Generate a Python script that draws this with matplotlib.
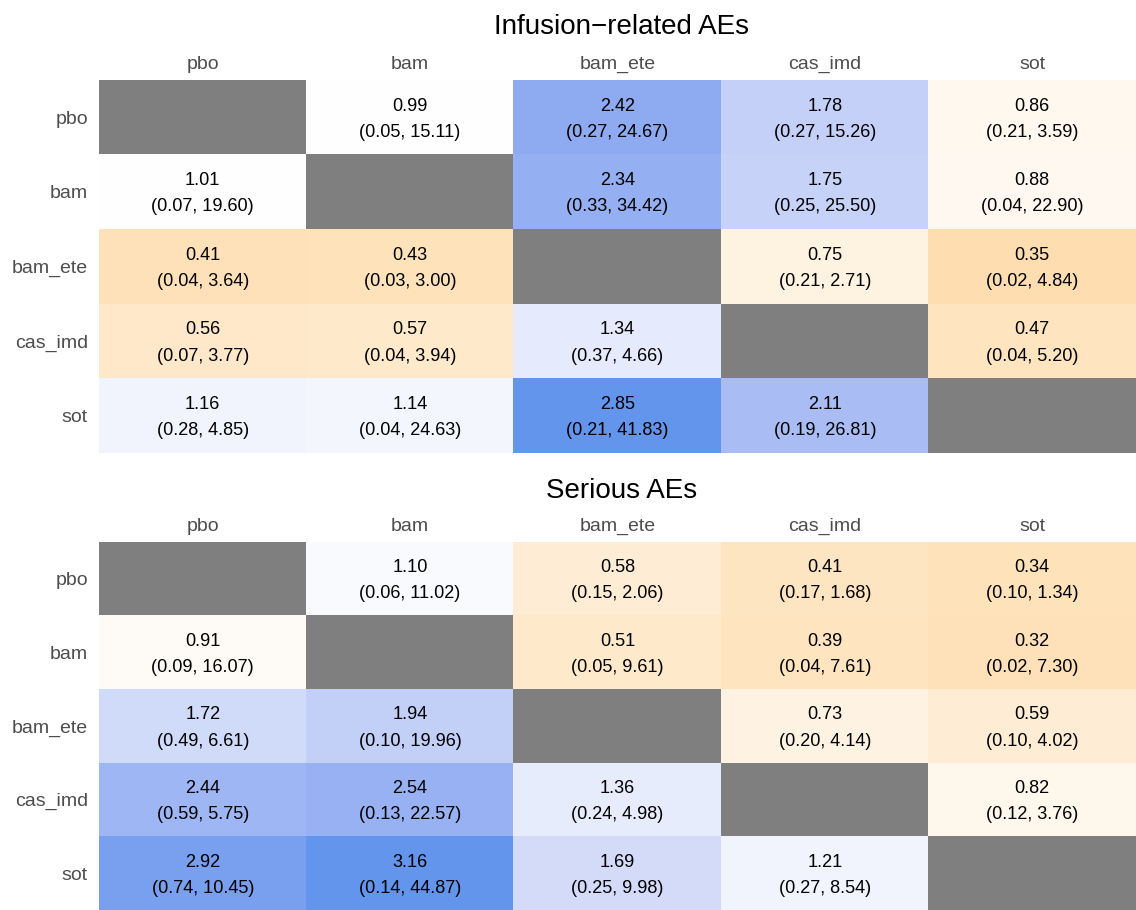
import numpy as np
import matplotlib
matplotlib.use("Agg")
import matplotlib.pyplot as plt
from matplotlib.colors import ListedColormap, Normalize, to_rgb

plt.rcParams['font.family'] = ['Liberation Sans', 'DejaVu Sans']

treatments = ["pbo", "bam", "bam_ete", "cas_imd", "sot"]

# odds ratios, row vs column; diagonal left empty
ir_or = [[np.nan, 0.99, 2.42, 1.78, 0.86],
         [1.01, np.nan, 2.34, 1.75, 0.88],
         [0.41, 0.43, np.nan, 0.75, 0.35],
         [0.56, 0.57, 1.34, np.nan, 0.47],
         [1.16, 1.14, 2.85, 2.11, np.nan]]
ir_lo = [[np.nan, 0.05, 0.27, 0.27, 0.21],
         [0.07, np.nan, 0.33, 0.25, 0.04],
         [0.04, 0.03, np.nan, 0.21, 0.02],
         [0.07, 0.04, 0.37, np.nan, 0.04],
         [0.28, 0.04, 0.21, 0.19, np.nan]]
ir_hi = [[np.nan, 15.11, 24.67, 15.26, 3.59],
         [19.60, np.nan, 34.42, 25.50, 22.90],
         [3.64, 3.00, np.nan, 2.71, 4.84],
         [3.77, 3.94, 4.66, np.nan, 5.20],
         [4.85, 24.63, 41.83, 26.81, np.nan]]

sae_or = [[np.nan, 1.10, 0.58, 0.41, 0.34],
          [0.91, np.nan, 0.51, 0.39, 0.32],
          [1.72, 1.94, np.nan, 0.73, 0.59],
          [2.44, 2.54, 1.36, np.nan, 0.82],
          [2.92, 3.16, 1.69, 1.21, np.nan]]
sae_lo = [[np.nan, 0.06, 0.15, 0.17, 0.10],
          [0.09, np.nan, 0.05, 0.04, 0.02],
          [0.49, 0.10, np.nan, 0.20, 0.10],
          [0.59, 0.13, 0.24, np.nan, 0.12],
          [0.74, 0.14, 0.25, 0.27, np.nan]]
sae_hi = [[np.nan, 11.02, 2.06, 1.68, 1.34],
          [16.07, np.nan, 9.61, 7.61, 7.30],
          [6.61, 19.96, np.nan, 4.14, 4.02],
          [5.75, 22.57, 4.98, np.nan, 3.76],
          [10.45, 44.87, 9.98, 8.54, np.nan]]


# --- Lab interpolation so the diverging ramp looks like a ggplot gradient2 ---
def srgb_to_lab(c):
    c = np.asarray(c, dtype=float)
    lin = np.where(c <= 0.04045, c / 12.92, ((c + 0.055) / 1.055) ** 2.4)
    M = np.array([[0.4124, 0.3576, 0.1805],
                  [0.2126, 0.7152, 0.0722],
                  [0.0193, 0.1192, 0.9505]])
    xyz = M @ lin / np.array([0.95047, 1.0, 1.08883])
    f = np.where(xyz > 216 / 24389, np.cbrt(xyz), (24389 / 27 * xyz + 16) / 116)
    return np.array([116 * f[1] - 16, 500 * (f[0] - f[1]), 200 * (f[1] - f[2])])


def lab_to_srgb(lab):
    L, a, b = lab
    fy = (L + 16) / 116
    fx = fy + a / 500
    fz = fy - b / 200
    f = np.array([fx, fy, fz])
    xyz = np.where(f ** 3 > 216 / 24389, f ** 3, (116 * f - 16) / (24389 / 27))
    xyz = xyz * np.array([0.95047, 1.0, 1.08883])
    Minv = np.array([[3.2406, -1.5372, -0.4986],
                     [-0.9689, 1.8758, 0.0415],
                     [0.0557, -0.2040, 1.0570]])
    lin = np.clip(Minv @ xyz, 0, 1)
    c = np.where(lin <= 0.0031308, 12.92 * lin, 1.055 * lin ** (1 / 2.4) - 0.055)
    return np.clip(c, 0, 1)


def diverging_lab(low, mid, high, n=256):
    lo, md, hi = (srgb_to_lab(to_rgb(x)) for x in (low, mid, high))
    cols = []
    for v in np.linspace(0, 1, n):
        if v < 0.5:
            t = v / 0.5
            lab = lo + (md - lo) * t
        else:
            t = (v - 0.5) / 0.5
            lab = md + (hi - md) * t
        cols.append(lab_to_srgb(lab))
    return ListedColormap(cols)


cmap = diverging_lab("orange", "white", "cornflowerblue")
cmap.set_bad("#7f7f7f")


def heat(ax, est, lo, hi):
    est = np.array(est, dtype=float)
    lo = np.array(lo, dtype=float)
    hi = np.array(hi, dtype=float)
    # centred on 1, stretched to the furthest value
    dev = np.nanmax(np.abs(est - 1))
    ax.imshow(np.ma.masked_invalid(est), cmap=cmap,
              norm=Normalize(vmin=1 - dev, vmax=1 + dev),
              aspect='auto', interpolation='nearest')
    n = len(treatments)
    for i in range(n):
        for j in range(n):
            if np.isnan(est[i, j]):
                continue
            ax.annotate("%.2f" % est[i, j], (j, i), xytext=(0, 8.0),
                        textcoords='offset points', ha='center', va='center',
                        fontsize=13.1, color='black')
            ax.annotate("(%.2f, %.2f)" % (lo[i, j], hi[i, j]), (j, i),
                        xytext=(0, -10.8), textcoords='offset points',
                        ha='center', va='center', fontsize=13.1, color='black')
    ax.set_xticks(range(n))
    ax.set_yticks(range(n))
    ax.set_xticklabels(treatments)
    ax.set_yticklabels(treatments)
    ax.xaxis.tick_top()
    ax.tick_params(length=0, labelsize=14, labelcolor='#4d4d4d')
    ax.tick_params(axis='x', pad=5)
    ax.tick_params(axis='y', pad=8)
    for s in ax.spines.values():
        s.set_visible(False)


fig = plt.figure(figsize=(11.36, 9.10), dpi=100)
ax1 = fig.add_axes([99 / 1136, 1 - 453 / 910, 1 - 99 / 1136, 373 / 910])
ax2 = fig.add_axes([99 / 1136, 0.0, 1 - 99 / 1136, 368 / 910])
heat(ax1, ir_or, ir_lo, ir_hi)
heat(ax2, sae_or, sae_lo, sae_hi)

fig.text(622 / 1136, 1 - 34 / 910, "Infusion\u2212related AEs", ha='center',
         va='baseline', fontsize=20)
fig.text(622 / 1136, 1 - 498 / 910, "Serious AEs", ha='center',
         va='baseline', fontsize=20)

fig.savefig("out.png", dpi=100)
